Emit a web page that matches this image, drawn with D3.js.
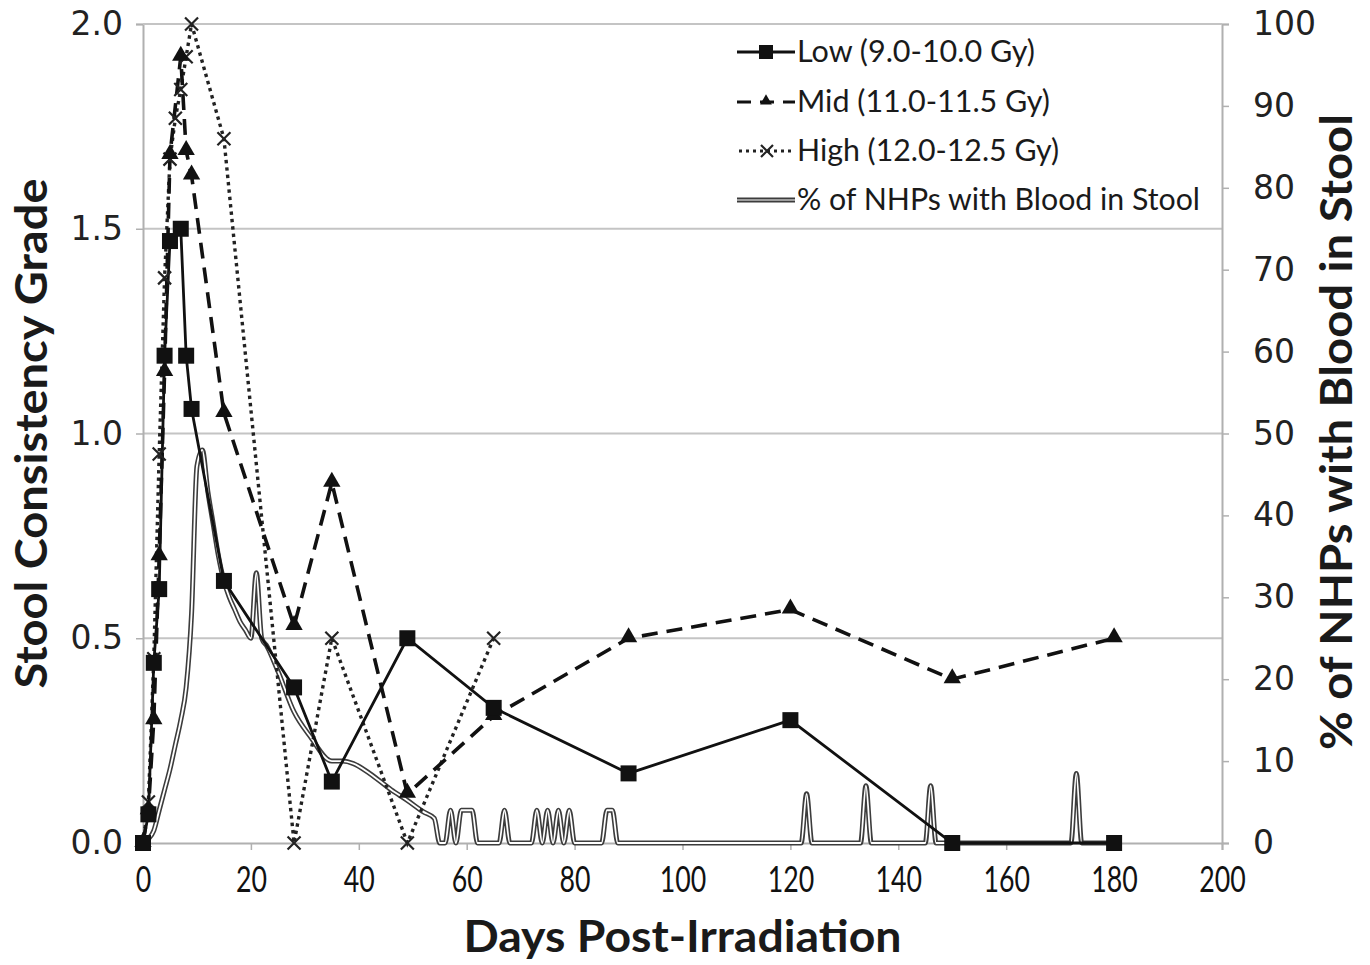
<!DOCTYPE html>
<html>
<head>
<meta charset="utf-8">
<script src="https://cdn.jsdelivr.net/npm/d3@7"></script>
<style>
  html, body { margin: 0; padding: 0; background: #fff; }
  svg { display: block; }
</style>
</head>
<body>
<svg id="chart" width="1370" height="965"></svg>
<script>
// ---------------- DATA ----------------
const lowDays  = [0, 1, 2, 3, 4, 5, 7, 8, 9, 15, 28, 35, 49, 65, 90, 120, 150, 180];
const lowVals  = [0, 0.07, 0.44, 0.62, 1.19, 1.47, 1.50, 1.19, 1.06, 0.64, 0.38, 0.15, 0.50, 0.33, 0.17, 0.30, 0, 0];

const midDays  = [0, 1, 2, 3, 4, 5, 7, 8, 9, 15, 28, 35, 49, 65, 90, 120, 150, 180];
const midVals  = [0, 0.08, 0.30, 0.70, 1.15, 1.68, 1.92, 1.69, 1.63, 1.05, 0.53, 0.88, 0.12, 0.31, 0.50, 0.57, 0.40, 0.50];

const highDays = [0, 1, 2, 3, 4, 5, 6, 7, 8, 9, 15, 28, 35, 49, 65];
const highVals = [0, 0.10, 0.45, 0.95, 1.38, 1.67, 1.77, 1.84, 1.92, 2.00, 1.72, 0, 0.50, 0, 0.50];

const bloodDays = [0, 1, 2, 3, 4, 5, 6, 7, 8, 9, 10, 11, 12, 13, 14, 15, 16, 17, 18, 19, 20, 21, 22, 23, 25, 28, 31, 35, 37, 39, 42, 46, 49, 52, 54, 55, 56, 57, 58, 59, 60, 61, 62, 66, 67, 68, 72, 73, 74, 75, 76, 77, 78, 79, 80, 85, 86, 87, 88, 122, 123, 124, 133, 134, 135, 145, 146, 147, 172, 173, 174, 180];
const bloodPct  = [0, 0.5, 1.5, 4, 6.5, 9, 12, 15, 19, 28, 46, 48, 43, 39, 35, 32, 30, 28.5, 27, 26, 25, 33, 25, 24, 21, 16, 13, 10, 10, 9.7, 8.5, 6.5, 5.2, 3.8, 3, 0, 0, 4, 0, 4, 4, 4, 0, 0, 4, 0, 0, 4, 0, 4, 0, 4, 0, 4, 0, 0, 4, 4, 0, 0, 6, 0, 0, 7, 0, 0, 7, 0, 0, 8.5, 0, 0];

const xTicks = [0, 20, 40, 60, 80, 100, 120, 140, 160, 180, 200];
const yLeftTicks = [0, 0.5, 1.0, 1.5, 2.0];
const yRightTicks = [0, 10, 20, 30, 40, 50, 60, 70, 80, 90, 100];

const seriesNames = ["Low (9.0-10.0 Gy)", "Mid (11.0-11.5 Gy)", "High (12.0-12.5 Gy)", "% of NHPs with Blood in Stool"];
const xTitle = "Days Post-Irradiation";
const yLeftTitle = "Stool Consistency Grade";
const yRightTitle = "% of NHPs with Blood in Stool";

// ---------------- CHART ----------------
const svg = d3.select("#chart");
const L = 143, R = 1222, T = 24, B = 843;
const x = d3.scaleLinear().domain([0, 200]).range([L, R]);
const yL = d3.scaleLinear().domain([0, 2]).range([B, T]);
const yR = d3.scaleLinear().domain([0, 100]).range([B, T]);

const numFont = "'DejaVu Sans', Verdana, sans-serif";
const narrowFont = "Lato, 'Open Sans', sans-serif";

// gridlines
svg.append("g").selectAll("line").data(yLeftTicks.filter(d => d > 0)).join("line")
  .attr("x1", L).attr("x2", R)
  .attr("y1", d => yL(d)).attr("y2", d => yL(d))
  .attr("stroke", "#c4c4c4").attr("stroke-width", 2);

// left axis
const gL = svg.append("g").attr("transform", `translate(${L},0)`)
  .call(d3.axisLeft(yL).tickValues(yLeftTicks).tickFormat(d3.format(".1f")).tickSize(7).tickPadding(13));
gL.select(".domain").attr("stroke", "#b0b0b0").attr("stroke-width", 2);
gL.selectAll(".tick line").attr("stroke", "#b0b0b0").attr("stroke-width", 1.5);
gL.selectAll(".tick text").attr("font-family", numFont).attr("font-size", 33).attr("fill", "#222");

// right axis
const gR = svg.append("g").attr("transform", `translate(${R},0)`)
  .call(d3.axisRight(yR).tickValues(yRightTicks).tickSize(7).tickPadding(24));
gR.select(".domain").attr("stroke", "#b0b0b0").attr("stroke-width", 2);
gR.selectAll(".tick line").attr("stroke", "#b0b0b0").attr("stroke-width", 1.5);
gR.selectAll(".tick text").attr("font-family", numFont).attr("font-size", 33).attr("fill", "#222");

// bottom axis
const gB = svg.append("g").attr("transform", `translate(0,${B})`)
  .call(d3.axisBottom(x).tickValues(xTicks).tickSize(7).tickPadding(16));
gB.select(".domain").attr("stroke", "#b0b0b0").attr("stroke-width", 2);
gB.selectAll(".tick line").attr("stroke", "#b0b0b0").attr("stroke-width", 1.5);
gB.selectAll(".tick text").attr("font-family", narrowFont).attr("font-size", 36).attr("fill", "#111")
  .attr("textLength", d => String(d).length * 15.5).attr("lengthAdjust", "spacingAndGlyphs");

// top border line at 2.0
svg.append("line").attr("x1", L).attr("x2", R).attr("y1", yL(2)).attr("y2", yL(2))
  .attr("stroke", "#c4c4c4").attr("stroke-width", 2);

// axis titles
svg.append("text").text(xTitle)
  .attr("x", (L + R) / 2).attr("y", 952).attr("text-anchor", "middle")
  .attr("font-family", narrowFont).attr("font-weight", "bold").attr("font-size", 44)
  .attr("fill", "#1a1a1a").attr("textLength", 438).attr("lengthAdjust", "spacingAndGlyphs");

svg.append("text").text(yLeftTitle)
  .attr("transform", `translate(47,${(T + B) / 2}) rotate(-90)`)
  .attr("text-anchor", "middle")
  .attr("font-family", narrowFont).attr("font-weight", "bold").attr("font-size", 44)
  .attr("fill", "#1a1a1a").attr("textLength", 510).attr("lengthAdjust", "spacingAndGlyphs");

svg.append("text").text(yRightTitle)
  .attr("transform", `translate(1352,432) rotate(-90)`)
  .attr("text-anchor", "middle")
  .attr("font-family", narrowFont).attr("font-weight", "bold").attr("font-size", 44)
  .attr("fill", "#1a1a1a").attr("textLength", 636).attr("lengthAdjust", "spacingAndGlyphs");

// blood line (double line style)
const bloodData = bloodDays.map((d, i) => [d, bloodPct[i]]);
const bloodLine = d3.line().x(d => x(d[0])).y(d => yR(d[1])).curve(d3.curveMonotoneX);
svg.append("path").attr("d", bloodLine(bloodData))
  .attr("fill", "none").attr("stroke", "#3c3c3c").attr("stroke-width", 5).attr("stroke-linejoin", "round");
svg.append("path").attr("d", bloodLine(bloodData))
  .attr("fill", "none").attr("stroke", "#fff").attr("stroke-width", 1.8).attr("stroke-linejoin", "round");

const line = d3.line().x(d => x(d[0])).y(d => yL(d[1]));

// High (dotted)
const highData = highDays.map((d, i) => [d, highVals[i]]);
svg.append("path").attr("d", line(highData))
  .attr("fill", "none").attr("stroke", "#222").attr("stroke-width", 3.4)
  .attr("stroke-dasharray", "3.4,4");
// Mid (dashed)
const midData = midDays.map((d, i) => [d, midVals[i]]);
svg.append("path").attr("d", line(midData))
  .attr("fill", "none").attr("stroke", "#111").attr("stroke-width", 3.6)
  .attr("stroke-dasharray", "16,9");
// Low (solid)
const lowData = lowDays.map((d, i) => [d, lowVals[i]]);
svg.append("path").attr("d", line(lowData))
  .attr("fill", "none").attr("stroke", "#111").attr("stroke-width", 2.8);

// markers
function xMark(g, cx, cy, s) {
  g.append("path").attr("d", `M${cx - s},${cy - s}L${cx + s},${cy + s}M${cx - s},${cy + s}L${cx + s},${cy - s}`)
    .attr("stroke", "#222").attr("stroke-width", 2.2).attr("fill", "none");
}
const gHigh = svg.append("g");
highData.forEach(d => xMark(gHigh, x(d[0]), yL(d[1]), 6.5));

const tri = d3.symbol().type(d3.symbolTriangle).size(130);
svg.append("g").selectAll("path").data(midData).join("path")
  .attr("d", tri).attr("transform", d => `translate(${x(d[0])},${yL(d[1]) - 1})`)
  .attr("fill", "#111");

svg.append("g").selectAll("rect").data(lowData).join("rect")
  .attr("x", d => x(d[0]) - 8).attr("y", d => yL(d[1]) - 8)
  .attr("width", 16).attr("height", 16).attr("fill", "#111");

// legend
const legX0 = 737, legX1 = 795, legTx = 797;
const legY = [52, 102, 151, 200];
const legW = [238, 253, 262, 403];
const lg = svg.append("g");
// low
lg.append("line").attr("x1", legX0).attr("x2", legX1).attr("y1", legY[0]).attr("y2", legY[0])
  .attr("stroke", "#111").attr("stroke-width", 2.8);
lg.append("rect").attr("x", 759).attr("y", legY[0] - 7).attr("width", 14).attr("height", 14).attr("fill", "#111");
// mid
lg.append("line").attr("x1", legX0).attr("x2", legX1).attr("y1", legY[1]).attr("y2", legY[1])
  .attr("stroke", "#111").attr("stroke-width", 3).attr("stroke-dasharray", "14,9");
lg.append("path").attr("d", d3.symbol().type(d3.symbolTriangle).size(60))
  .attr("transform", `translate(766,${legY[1] - 1})`).attr("fill", "#111");
// high
lg.append("line").attr("x1", legX0 + 2).attr("x2", legX1).attr("y1", legY[2]).attr("y2", legY[2])
  .attr("stroke", "#222").attr("stroke-width", 3).attr("stroke-dasharray", "3,4");
xMark(lg, 767, legY[2], 6);
// blood
lg.append("line").attr("x1", legX0).attr("x2", legX1).attr("y1", legY[3]).attr("y2", legY[3])
  .attr("stroke", "#3c3c3c").attr("stroke-width", 5);
lg.append("line").attr("x1", legX0).attr("x2", legX1).attr("y1", legY[3]).attr("y2", legY[3])
  .attr("stroke", "#fff").attr("stroke-width", 1.2);

seriesNames.forEach((n, i) => {
  lg.append("text").text(n).attr("x", legTx).attr("y", legY[i] + 10)
    .attr("font-family", narrowFont).attr("font-size", 30).attr("fill", "#1a1a1a")
    .attr("textLength", legW[i]).attr("lengthAdjust", "spacingAndGlyphs");
});
</script>
</body>
</html>
